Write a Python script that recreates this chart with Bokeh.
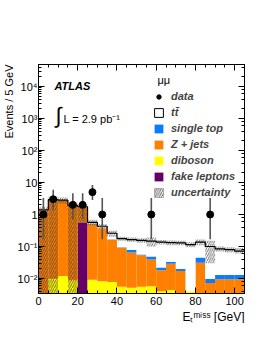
import numpy as np
from bokeh.plotting import figure
from bokeh.models import (Range1d, LinearAxis, LogAxis, SingleIntervalTicker, LogTicker,
                          CustomJSTickFormatter, Label, Legend, LegendItem, Title)
from bokeh.embed import file_html
from bokeh.resources import INLINE

# ---------------- data ----------------
bin_lo = [0, 5, 10, 15, 20, 25, 30, 35, 40, 45, 50, 55, 60, 65, 70, 75, 80, 85, 90, 95, 100]
bin_hi = [5, 10, 15, 20, 25, 30, 35, 40, 45, 50, 55, 60, 65, 70, 75, 80, 85, 90, 95, 100, 105]

fake_leptons = [0, 0, 0, 0, 0.57, 0, 0, 0, 0, 0, 0, 0, 0, 0, 0, 0, 0, 0, 0, 0, 0]
diboson = [0, 0.0098, 0.0118, 0.0087, 0.008, 0.009, 0.0081, 0.0077, 0.0054, 0.005, 0.0054,
           0.0056, 0.0039, 0.0043, 0, 0.0039, 0, 0, 0, 0, 0]
z_jets = [1.35, 2.79, 2.69, 1.84, 1.12, 0.491, 0.362, 0.157, 0.0856, 0.060, 0.0476, 0.0334,
          0.0141, 0.0247, 0.017, 0, 0.031, 0.0071, 0.0094, 0.0094, 0.0094]
single_top = [0.01, 0.02, 0.02, 0.015, 0.01, 0.006, 0.005, 0.004, 0.003, 0.014, 0.003, 0.010,
              0.004, 0.004, 0.0026, 0, 0.014, 0.0027, 0.0033, 0.0033, 0.0034]
ttbar = [0.04, 0.08, 0.08, 0.035, 0.04, 0.064, 0.055, 0.091, 0.081, 0.086, 0.099, 0.098,
         0.115, 0.1, 0.11, 0.111, 0.092, 0.09, 0.072, 0.067, 0.059]

unc_lo = [0.001, 0.001, 2.2, 0.001, 0.57, 0.46, 0.36, 0.2, 0.15, 0.14, 0.13, 0.1, 0.115,
          0.11, 0.11, 0.095, 0.11, 0.03, 0.07, 0.065, 0.06]
unc_hi = [1.75, 3.6, 3.4, 2.4, 2.1, 0.68, 0.5, 0.31, 0.2, 0.19, 0.18, 0.19, 0.16, 0.155,
          0.15, 0.135, 0.165, 0.15, 0.1, 0.095, 0.09]

data_x = [2.5, 7.5, 17.5, 22.5, 27.5, 32.5, 57.5, 87.5]
data_n = [1, 3, 2, 2, 5, 1, 1, 1]
data_lo = [0.17, 1.37, 0.71, 0.71, 2.84, 0.17, 0.17, 0.17]
data_hi = [3.3, 5.92, 4.64, 4.64, 8.38, 3.3, 3.3, 3.3]

FONT = "Liberation Sans"
C_FAKE, C_DIB, C_Z, C_TOP, C_TT = "#660066", "#ffff00", "#ff7f00", "#0a7cff", "#ffffff"
NAN = [float("nan")]

# ---------------- figure ----------------
p = figure(frame_width=206, frame_height=229, x_range=Range1d(0, 105),
           y_range=Range1d(0.0034, 48700), y_axis_type="log",
           output_backend="svg", toolbar_location=None,
           min_border_left=33, min_border_right=23, min_border_top=64, min_border_bottom=30)
p.outline_line_color = "black"
p.xgrid.visible = False
p.ygrid.visible = False
p.background_fill_color = "white"
p.border_fill_color = "white"

floor = 1e-4
cum = np.full(len(bin_lo), floor)
renders = {}
for name, vals, col in [("fake leptons", fake_leptons, C_FAKE), ("diboson", diboson, C_DIB),
                        ("Z + jets", z_jets, C_Z), ("single top", single_top, C_TOP),
                        ("tt", ttbar, C_TT)]:
    v = np.array(vals, dtype=float)
    renders[name] = p.quad(left=bin_lo, right=bin_hi, bottom=cum.copy(), top=cum + v,
                           fill_color=col, line_color=None)
    cum = cum + v

r_unc = p.quad(left=bin_lo, right=bin_hi, bottom=unc_lo, top=unc_hi, fill_alpha=0,
               line_color=None, hatch_pattern="/", hatch_color="#333333",
               hatch_scale=4.5, hatch_weight=0.8, hatch_alpha=0.9)

total = list(cum) + [cum[-1]]
p.step(x=bin_lo + [bin_hi[-1]], y=total, mode="after", line_color="black", line_width=1.2)

p.segment(x0=data_x, y0=data_lo, x1=data_x, y1=data_hi, line_color="#555555", line_width=1.6)
r_data = p.scatter(x=data_x, y=data_n, size=7, fill_color="black", line_color="black")

# legend-only proxies (not drawn in the frame)
r_tt_leg = p.quad(left=NAN, right=NAN, bottom=NAN, top=NAN, fill_color="white",
                  line_color="black", line_width=1)
r_unc_leg = p.quad(left=NAN, right=NAN, bottom=NAN, top=NAN, fill_alpha=0,
                   line_color="#777777", line_width=0.6, hatch_pattern="/",
                   hatch_color="#333333", hatch_scale=4.5, hatch_weight=0.8)

legend = Legend(items=[
    LegendItem(label="data", renderers=[r_data]),
    LegendItem(label="tt\u0304", renderers=[r_tt_leg]),
    LegendItem(label="single top", renderers=[renders["single top"]]),
    LegendItem(label="Z + jets", renderers=[renders["Z + jets"]]),
    LegendItem(label="diboson", renderers=[renders["diboson"]]),
    LegendItem(label="fake leptons", renderers=[renders["fake leptons"]]),
    LegendItem(label="uncertainty", renderers=[r_unc_leg]),
], location=(115, 95), padding=0, margin=0, spacing=4, glyph_width=11, glyph_height=11,
    label_height=12, label_standoff=7, label_text_font=FONT, label_text_font_size="11px",
    label_text_font_style="bold italic", border_line_color=None, background_fill_alpha=0)
p.add_layout(legend)

# ---------------- axes ----------------
xax = p.xaxis[0]
yax = p.yaxis[0]
xax.ticker = SingleIntervalTicker(interval=20, num_minor_ticks=4)
for ax in (xax, yax):
    ax.major_tick_in = 6
    ax.major_tick_out = 0
    ax.minor_tick_in = 3
    ax.minor_tick_out = 0
    ax.axis_line_color = "black"
    ax.major_label_text_font = FONT
    ax.major_label_text_font_size = "11px"
    ax.major_label_text_color = "black"
xax.major_label_standoff = 3
yax.major_label_standoff = 1
yax.formatter = CustomJSTickFormatter(code="""
const e = Math.round(Math.log10(tick));
const sup = {"-":"\u207b","0":"\u2070","1":"\u00b9","2":"\u00b2","3":"\u00b3","4":"\u2074",
             "5":"\u2075","6":"\u2076","7":"\u2077","8":"\u2078","9":"\u2079"};
if (e == 0) return "1";
if (e == 1) return "10";
return "10" + String(e).split("").map(c => sup[c]).join("");
""")

blank = CustomJSTickFormatter(code="return '';")
top_ax = LinearAxis(ticker=SingleIntervalTicker(interval=20, num_minor_ticks=4), formatter=blank,
                    major_tick_in=6, major_tick_out=0, minor_tick_in=3, minor_tick_out=0,
                    major_label_standoff=0)
right_ax = LogAxis(ticker=LogTicker(), formatter=blank, major_tick_in=6, major_tick_out=0,
                   minor_tick_in=3, minor_tick_out=0, major_label_standoff=0)
p.add_layout(top_ax, "above")
p.add_layout(right_ax, "right")

# axis titles, right / top aligned like the ROOT original
p.add_layout(Title(text="Events / 5 GeV", align="right", text_font=FONT,
                   text_font_size="11px", text_font_style="normal", text_color="black",
                   standoff=0, offset=0), "left")
p.add_layout(Title(text="E\u209c\u1d50\u2071\u02e2\u02e2 [GeV]", align="right", text_font=FONT,
                   text_font_size="12px", text_font_style="normal", text_color="black",
                   standoff=0, offset=0), "below")

# ---------------- texts ----------------
def lab(x, y, t, size, style="normal", align="left", baseline="middle", angle=0):
    p.add_layout(Label(x=x, y=y, text=t, text_font=FONT, text_font_size=size,
                       text_font_style=style, text_align=align, text_baseline=baseline,
                       angle=angle, text_color="black"))

lab(8.15, 10 ** 4.03, "ATLAS", "11px", "bold italic")
lab(10.2, 10 ** 3.09, "\u222b", "22px", align="center")
lab(12.7, 10 ** 3.0, "L = 2.9 pb\u207b\u00b9", "11px")
lab(60.65, 10 ** 4.19, "\u03bc\u03bc", "11px")

open("out.html", "w").write(file_html(p, INLINE))
